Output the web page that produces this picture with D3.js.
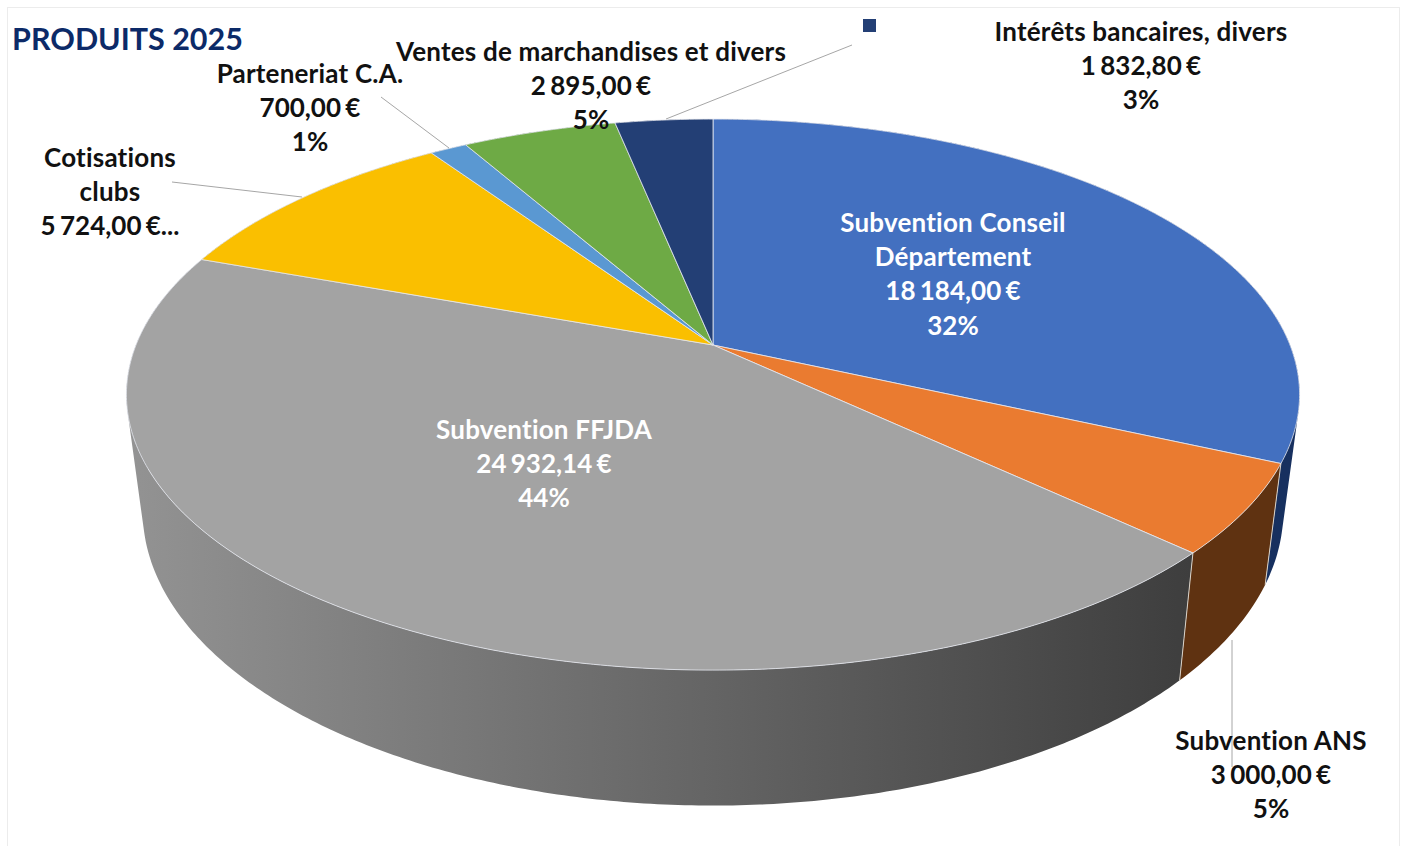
<!DOCTYPE html>
<html>
<head>
<meta charset="utf-8">
<style>
  html, body { margin: 0; padding: 0; background: #fff; }
  svg { display: block; }
  text { font-family: Lato, "Open Sans", sans-serif; font-weight: 700; text-anchor: middle; }
</style>
</head>
<body>
<div id="chart"></div>
<script src="https://cdn.jsdelivr.net/npm/d3@7"></script>
<script>
var categories = ["Subvention Conseil Département", "Subvention ANS", "Subvention FFJDA", "Cotisations clubs", "Parteneriat C.A.", "Ventes de marchandises et divers", "Intérêts bancaires, divers"];
var values = [18184.00, 3000.00, 24932.14, 5724.00, 700.00, 2895.00, 1832.80];
var percents = ["32%", "5%", "44%", "10%", "1%", "5%", "3%"];
var topColors = ["#4370c0", "#ea7b30", "#a3a3a3", "#fabf00", "#5a98d2", "#6eaa45", "#233f75"];
var sideColors = ["#17305f", "#5f3211", "url(#graySide)", "#8a6a00", "#33567a", "#3e6027", "#132340"];

// layout of the labels, one entry per category
var nameLines = [["Subvention Conseil", "Département"], ["Subvention ANS"], ["Subvention FFJDA"], ["Cotisations", "clubs"], ["Parteneriat C.A."], ["Ventes de marchandises et divers"], ["Intérêts bancaires, divers"]];
var labelX = [953, 1271, 544, 110, 310, 591, 1141];
var labelY = [231.5, 749.5, 438.5, 166.5, 82.5, 60.5, 40.5];
var labelFill = ["#fff", "#111", "#fff", "#111", "#111", "#111", "#111"];
var leaders = [[[172, 182], [302, 197]], [[381, 97], [449, 148]], [[666, 119], [852, 45]], [[1232, 640], [1232, 767]]];

var width = 1405, height = 846;
var cx = 713, persp = 0.18;
var topDisc = { a: 577, b: 266.6, y0: 345 };
var bottomDisc = { a: 561, b: 285, y0: 458 };

var fr = d3.formatLocale({ decimal: ",", thousands: " ", grouping: [3], currency: ["", " €"] });
var money = fr.format("$,.2f");

// the pie is tilted, so a point of the rim is a perspective projection
var project = function project(theta, disc) {
  var w = 1 + persp * Math.cos(theta);
  return [cx + disc.a * Math.sin(theta) / w, disc.y0 - disc.b * Math.cos(theta) / w];
};

var steps = function steps(a0, a1) {
  var n = Math.max(2, Math.ceil((a1 - a0) / 0.01));
  return d3.range(n + 1).map(function (i) {
    return a0 + (a1 - a0) * i / n;
  });
};

var rim = function rim(a0, a1, disc) {
  return steps(a0, a1).map(function (t) {
    return project(t, disc);
  });
};

// side wall as small quads, all wound the same way or the fill cancels past the tangent
var wall = function wall(a0, a1) {
  return d3.pairs(steps(a0, a1)).map(function (p) {
    var quad = [project(p[0], topDisc), project(p[1], topDisc), project(p[1], bottomDisc), project(p[0], bottomDisc)];
    if (d3.polygonArea(quad) < 0) quad.reverse();
    return line(quad) + "Z";
  }).join("");
};

var line = d3.line();
var arcs = d3.pie().sort(null).value(function (d) { return d; })(values);

var svg = d3.select("#chart").append("svg").attr("width", width).attr("height", height);

var grad = svg.append("defs").append("linearGradient").attr("id", "graySide")
  .attr("gradientUnits", "userSpaceOnUse").attr("x1", 127).attr("x2", 1190).attr("y1", 0).attr("y2", 0);
grad.append("stop").attr("offset", 0).attr("stop-color", "#939393");
grad.append("stop").attr("offset", 1).attr("stop-color", "#3e3e3e");

// frame of the pasted picture
svg.append("rect").attr("x", 7.5).attr("y", 7.5).attr("width", 1392).attr("height", 860)
  .attr("fill", "#fff").attr("stroke", "#ececec");

svg.append("g").selectAll("path").data(arcs).enter().append("path")
  .attr("d", function (d) { return wall(d.startAngle, d.endAngle); })
  .attr("fill", function (d, i) { return sideColors[i]; });

// light seams between the sides
svg.append("g").selectAll("path").data(arcs.slice(0, 2)).enter().append("path")
  .attr("d", function (d) {
    return line([project(d.endAngle, topDisc), project(d.endAngle, bottomDisc)]);
  })
  .attr("stroke", "#d9d2c8").attr("stroke-width", 1).attr("fill", "none");

svg.append("g").selectAll("path").data(arcs).enter().append("path")
  .attr("d", function (d) {
    return line([[cx, topDisc.y0]].concat(rim(d.startAngle, d.endAngle, topDisc))) + "Z";
  })
  .attr("fill", function (d, i) { return topColors[i]; })
  .attr("stroke", "#e6e9f0").attr("stroke-width", 0.8).attr("stroke-linejoin", "round");

svg.append("g").selectAll("path").data(leaders).enter().append("path")
  .attr("d", function (d) { return line(d); })
  .attr("stroke", "#a6a6a6").attr("stroke-width", 1).attr("fill", "none");

svg.append("rect").attr("x", 863).attr("y", 19).attr("width", 13).attr("height", 13).attr("fill", topColors[6]);

svg.append("text").attr("x", 127.5).attr("y", 50).attr("fill", "#0c2a68")
  .style("font-size", "30.5px").text("PRODUITS 2025");

var labels = svg.append("g").selectAll("text").data(categories).enter().append("text")
  .attr("y", function (d, i) { return labelY[i]; })
  .attr("fill", function (d, i) { return labelFill[i]; })
  .style("font-size", "26px");

labels.each(function (d, i) {
  var names = nameLines[i];
  var lines = names.slice();
  if (i === 3) {
    lines.push(money(values[i]) + "...");
  } else {
    lines.push(money(values[i]), percents[i]);
  }
  d3.select(this).selectAll("tspan").data(lines).enter().append("tspan")
    .attr("x", labelX[i])
    .attr("dy", function (l, j) { return j === 0 ? 0 : 34.4; })
    .style("letter-spacing", function (l, j) { return j < names.length ? "0.2px" : "0"; })
    .style("word-spacing", function (l, j) { return j < names.length ? "0" : "-2px"; })
    .text(function (l) { return l; });
});
</script>
</body>
</html>
